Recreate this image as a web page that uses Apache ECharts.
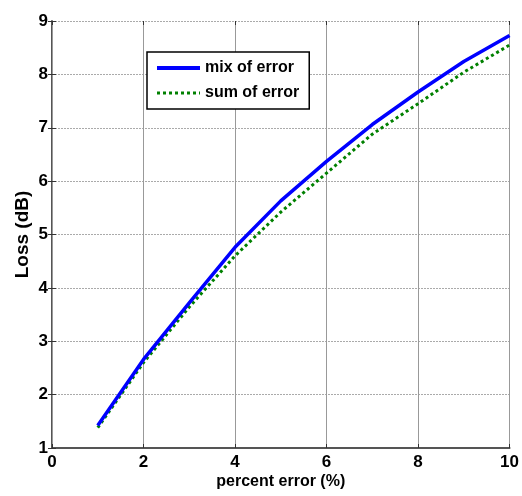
<!DOCTYPE html>
<html>
<head>
<meta charset="utf-8">
<script src="https://cdn.jsdelivr.net/npm/echarts@6/dist/echarts.min.js"></script>
<style>
  html, body { margin: 0; padding: 0; background: #fff; }
  #chart { width: 522px; height: 496px; }
</style>
</head>
<body>
<div id="chart"></div>
<script>
// Loss versus percent error for the two error-combination methods
const percentError = [1, 2, 3, 4, 5, 6, 7, 8, 9, 10];
const mixOfError = [1.42, 2.66, 3.72, 4.76, 5.63, 6.37, 7.06, 7.67, 8.24, 8.73];
const sumOfError = [1.38, 2.60, 3.64, 4.60, 5.42, 6.15, 6.88, 7.45, 8.04, 8.55];
const xTicks = [0, 2, 4, 6, 8, 10];
const yTicks = [1, 2, 3, 4, 5, 6, 7, 8, 9];

const FONT = 'Liberation Sans, Arial, sans-serif';
const chart = echarts.init(document.getElementById('chart'), null, { renderer: 'canvas' });

const pairs = (xs, ys) => xs.map((x, i) => [x, ys[i]]);

chart.setOption({
  animation: false,
  backgroundColor: '#ffffff',
  grid: { left: 52, right: 7, top: 21, bottom: 48, containLabel: false },
  legend: {
    left: 147, top: 52,
    orient: 'vertical',
    backgroundColor: '#ffffff',
    borderColor: '#000000',
    borderWidth: 1.5,
    borderRadius: 0,
    padding: [8, 10, 8, 8],
    itemWidth: 43,
    itemHeight: 16,
    itemGap: 9,
    itemStyle: { opacity: 0, borderWidth: 0 },
    textStyle: { fontFamily: FONT, fontWeight: 'bold', fontSize: 16, color: '#000', lineHeight: 16 },
    data: [
      { name: 'mix of error', lineStyle: { color: '#0000ff', width: 4, type: 'solid' } },
      { name: 'sum of error', lineStyle: { color: '#008000', width: 3, type: [3, 3] } }
    ]
  },
  xAxis: [{
    type: 'value',
    min: xTicks[0], max: xTicks[xTicks.length - 1], interval: 2,
    name: 'percent error (%)',
    nameLocation: 'middle',
    nameGap: 26,
    nameMoveOverlap: false,
    nameTextStyle: { fontFamily: FONT, fontWeight: 'bold', fontSize: 16, color: '#000', verticalAlign: 'top' },
    axisLine: { show: true, onZero: false, lineStyle: { color: '#555', width: 2 } },
    axisTick: { show: true, inside: true, length: 4, lineStyle: { color: '#333', width: 1 } },
    axisLabel: { margin: 6, fontFamily: FONT, fontWeight: 'bold', fontSize: 17, color: '#000' },
    splitLine: { show: true, lineStyle: { color: '#999', width: 1, type: 'solid' } }
  }, {
    type: 'value', position: 'top',
    min: xTicks[0], max: xTicks[xTicks.length - 1], interval: 2,
    axisLine: { show: false },
    axisTick: { show: true, inside: true, length: 4, lineStyle: { color: '#333', width: 1 } },
    axisLabel: { show: false },
    splitLine: { show: false }
  }],
  yAxis: [{
    type: 'value',
    min: yTicks[0], max: yTicks[yTicks.length - 1], interval: 1,
    name: 'Loss (dB)',
    nameLocation: 'middle',
    nameGap: 20,
    nameMoveOverlap: false,
    nameTextStyle: { fontFamily: FONT, fontWeight: 'bold', fontSize: 19, color: '#000' },
    axisLine: { show: true, onZero: false, lineStyle: { color: '#555', width: 2 } },
    axisTick: { show: true, inside: true, length: 4, lineStyle: { color: '#333', width: 1 } },
    axisLabel: { margin: 4, fontFamily: FONT, fontWeight: 'bold', fontSize: 17, color: '#000' },
    splitLine: { show: true, lineStyle: { color: '#aaa', width: 1, type: [2, 1] } }
  }, {
    type: 'value', position: 'right',
    min: yTicks[0], max: yTicks[yTicks.length - 1], interval: 1,
    axisLine: { show: true, lineStyle: { color: '#999', width: 1 } },
    axisTick: { show: true, inside: true, length: 4, lineStyle: { color: '#333', width: 1 } },
    axisLabel: { show: false },
    splitLine: { show: false }
  }],
  series: [{
    name: 'mix of error',
    type: 'line',
    data: pairs(percentError, mixOfError),
    symbol: 'none',
    color: '#0000ff',
    lineStyle: { color: '#0000ff', width: 3.5 },
    z: 3
  }, {
    name: 'sum of error',
    type: 'line',
    data: pairs(percentError, sumOfError),
    symbol: 'none',
    color: '#008000',
    lineStyle: { color: '#008000', width: 3, type: [3, 3] },
    z: 2
  }]
});
</script>
</body>
</html>
